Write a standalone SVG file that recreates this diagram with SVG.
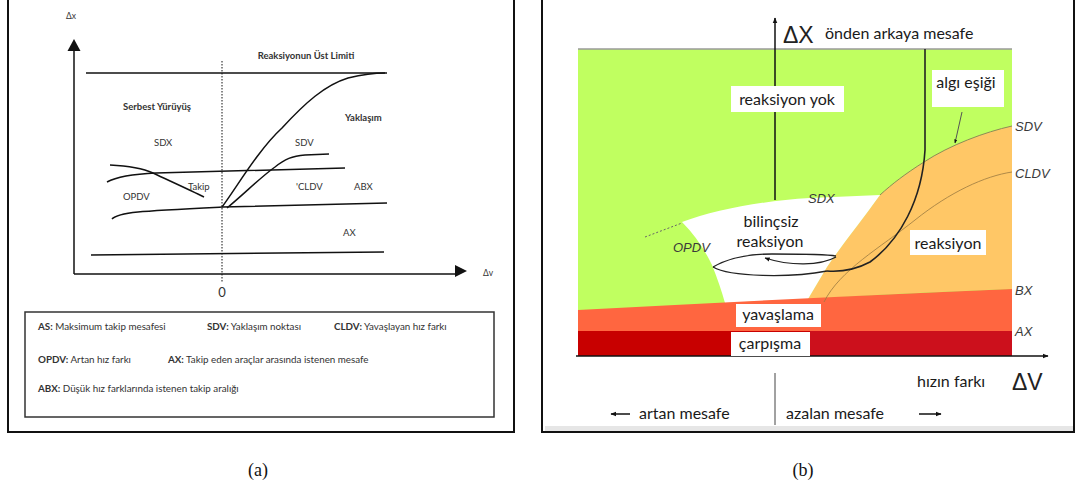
<svg xmlns="http://www.w3.org/2000/svg" width="1076" height="488" viewBox="0 0 1076 488">
<defs>
<style>
.frame{fill:none;stroke:#111;stroke-width:2}
.ln{fill:none;stroke:#111;stroke-width:1.5}
.t{font-family:Lato,"Liberation Sans",sans-serif;fill:#333}
.lab{font-size:9.5px}
.b{font-weight:bold}
.leg{font-size:9.8px}
.big{font-family:"Liberation Sans",Arial,sans-serif;fill:#222}
.tb{font-family:Lato,"Liberation Sans",sans-serif;font-size:16px;fill:#1a1a1a}
.it{font-family:"Liberation Sans",Arial,sans-serif;font-style:italic;font-size:13px;fill:#3a3a3a}
.wb{fill:#fff}
.cap{font-family:"Liberation Serif","Times New Roman",serif;font-size:18px;fill:#111}
</style>
<marker id="ahs" viewBox="0 0 10 10" refX="9" refY="5" markerWidth="4" markerHeight="4" orient="auto-start-reverse"><path d="M0,1 L10,5 L0,9 Z" fill="#111"/></marker>
</defs>
<rect width="1076" height="488" fill="#fff"/>

<!-- Panel (a) -->
<g id="panel-a">
<rect class="frame" x="8" y="-5" width="506" height="437"/>
<g id="a-axes">
<line class="ln" x1="74" y1="50" x2="74" y2="274"/>
<polygon points="74,39 67.5,51 80.5,51" fill="#111"/>
<line class="ln" x1="74" y1="274" x2="456" y2="274"/>
<polygon points="467,271 455,265 455,277" fill="#111"/>
<text class="t" x="71" y="19" font-size="8.5" text-anchor="middle">Δx</text>
<text class="t" x="483" y="276" font-size="8.5">Δv</text>
<line x1="222" y1="61" x2="222" y2="282" stroke="#111" stroke-width="1" stroke-dasharray="1.5,1.5"/>
<text class="t" x="222" y="297" font-size="13" text-anchor="middle">0</text>
</g>
<g id="a-curves">
<line class="ln" x1="86" y1="73" x2="387" y2="73"/>
<path class="ln" d="M91,255 L384,252"/>
<path class="ln" d="M107,182 C118,176 135,174 156,173 L345,168"/>
<path class="ln" d="M110,165 C130,166 142,168 153,173 C170,181 190,190 204,197"/>
<path class="ln" d="M112,219 C118,212 140,211 222,207 L387,203"/>
<path class="ln" d="M222,207 C235,190 258,150 282,128 C305,103 325,85 348,78 C365,74 375,73 385,73"/>
<path class="ln" d="M227,208 C245,193 262,176 275,167 C285,159 292,156 305,155 L329,154"/>
</g>
<g id="a-labels">
<text class="t lab b" x="306" y="59" text-anchor="middle">Reaksiyonun Üst Limiti</text>
<text class="t lab b" x="123" y="110">Serbest Yürüyüş</text>
<text class="t lab b" x="345" y="121">Yaklaşım</text>
<text class="t lab" x="154" y="146">SDX</text>
<text class="t lab" x="295" y="146">SDV</text>
<text class="t lab" x="188" y="190">Takip</text>
<text class="t lab" x="123" y="200">OPDV</text>
<text class="t lab" x="296" y="190">'CLDV</text>
<text class="t lab" x="354" y="190">ABX</text>
<text class="t lab" x="343" y="236">AX</text>
</g>
<g id="a-legend">
<rect x="25" y="312" width="469" height="105" fill="none" stroke="#333" stroke-width="1.5"/>
<text class="t leg" x="38" y="330"><tspan class="b">AS:</tspan> Maksimum takip mesafesi</text>
<text class="t leg" x="207" y="330"><tspan class="b">SDV:</tspan> Yaklaşım noktası</text>
<text class="t leg" x="334" y="330"><tspan class="b">CLDV:</tspan> Yavaşlayan hız farkı</text>
<text class="t leg" x="38" y="363"><tspan class="b">OPDV:</tspan> Artan hız farkı</text>
<text class="t leg" x="168" y="363"><tspan class="b">AX:</tspan> Takip eden araçlar arasında istenen mesafe</text>
<text class="t leg" x="38" y="392"><tspan class="b">ABX:</tspan> Düşük hız farklarında istenen takip aralığı</text>
</g>
</g>

<!-- Panel (b) -->
<g id="panel-b">
<rect x="545" y="426" width="528" height="5" fill="#e6e6e6"/>
<rect class="frame" x="542" y="-5" width="532" height="437"/>
<g id="b-regions">
<rect x="578" y="49" width="434" height="307" fill="#C0FF60"/>
<line x1="578" y1="49" x2="1012" y2="49" stroke="#9a9a9a" stroke-width="1.5"/>
<path d="M1012,126 C985,132 950,145 924,162 C905,174 892,184 880,195 C862,220 842,245 827,267 L808,299 Q900,293 1012,289 Z" fill="#FFC766"/>
<path d="M682,222 C715,210 760,201 810,198 L880,195 C862,220 842,245 827,267 L808,299 L725,303 Q720,285 712,265 Q700,240 682,222 Z" fill="#fff"/>
<path d="M578,310 Q800,298 1012,289 L1012,331 L578,331 Z" fill="#FF6640"/>
<rect x="578" y="331" width="434" height="25" fill="#C80000"/>
<rect x="810" y="331" width="202" height="25" fill="#CC101C"/>
<path d="M1012,126 C985,132 950,145 924,162 C905,174 892,184 880,195" fill="none" stroke="#8c8c55" stroke-width="1"/>
<path d="M1012,172 C985,176 950,192 915,220 C880,248 840,270 824,302" fill="none" stroke="#9a7a40" stroke-width="0.8"/>
<path d="M645,237 L682,223" fill="none" stroke="#666" stroke-width="1" stroke-dasharray="2,2"/>
</g>
<g id="b-axes">
<line x1="775" y1="18" x2="775" y2="200" stroke="#111" stroke-width="1.5" marker-start="url(#ahs)"/>
<line x1="576" y1="356" x2="1048" y2="356" stroke="#111" stroke-width="1.5" marker-end="url(#ahs)"/>
<line x1="775" y1="373" x2="775" y2="425" stroke="#444" stroke-width="1"/>
<text class="big" x="783" y="43" font-size="23">ΔX</text>
<text class="tb" x="825" y="39">önden arkaya mesafe</text>
<text class="tb" x="917" y="387">hızın farkı</text>
<text class="big" x="1012" y="390" font-size="23">ΔV</text>
<line x1="630" y1="414" x2="611" y2="414" stroke="#111" stroke-width="1.5" marker-end="url(#ahs)"/>
<text class="tb" x="639" y="419">artan mesafe</text>
<text class="tb" x="786" y="419">azalan mesafe</text>
<line x1="919" y1="414" x2="941" y2="414" stroke="#111" stroke-width="1.5" marker-end="url(#ahs)"/>
</g>
<g id="b-threshold">
<path d="M925,49 L925,150 C922,200 900,240 870,262 C855,270 840,272 827,271" fill="none" stroke="#222" stroke-width="1.6"/>
<line x1="962" y1="112" x2="955" y2="143" stroke="#555" stroke-width="1" marker-end="url(#ahs)"/>
</g>
<g id="b-loop">
<path d="M713,267 C730,257 750,254 772,254 C800,254 825,254 836,256" fill="none" stroke="#222" stroke-width="1.3"/>
<path d="M836,257 C820,266 790,266 765,258" fill="none" stroke="#222" stroke-width="1.3" marker-end="url(#ahs)"/>
<path d="M713,267 C730,277 790,278 827,271" fill="none" stroke="#222" stroke-width="1.3"/>
</g>
<g id="b-labels">
<text class="it" x="1015" y="131">SDV</text>
<text class="it" x="1015" y="178">CLDV</text>
<text class="it" x="1015" y="295">BX</text>
<text class="it" x="1015" y="336">AX</text>
<text class="it" x="808" y="203" font-size="12" fill="#555">SDX</text>
<text class="it" x="673" y="252" fill="#333">OPDV</text>
<rect class="wb" x="731" y="86" width="113" height="26"/>
<text class="tb" x="787" y="105" text-anchor="middle">reaksiyon yok</text>
<rect class="wb" x="932" y="70" width="72" height="37"/>
<text class="tb" x="966" y="88" text-anchor="middle">algı eşiği</text>
<text class="tb" x="771" y="227" text-anchor="middle">bilinçsiz</text>
<text class="tb" x="770" y="247" text-anchor="middle">reaksiyon</text>
<rect class="wb" x="910" y="230" width="76" height="25"/>
<text class="tb" x="948" y="249" text-anchor="middle">reaksiyon</text>
<rect class="wb" x="736" y="304" width="85" height="23"/>
<text class="tb" x="778" y="320" text-anchor="middle">yavaşlama</text>
<rect class="wb" x="731" y="332" width="79" height="24"/>
<text class="tb" x="770" y="349" text-anchor="middle">çarpışma</text>
</g>
</g>

<g id="captions">
<text class="cap" x="258" y="476" text-anchor="middle">(a)</text>
<text class="cap" x="803" y="476" text-anchor="middle">(b)</text>
</g>
</svg>
